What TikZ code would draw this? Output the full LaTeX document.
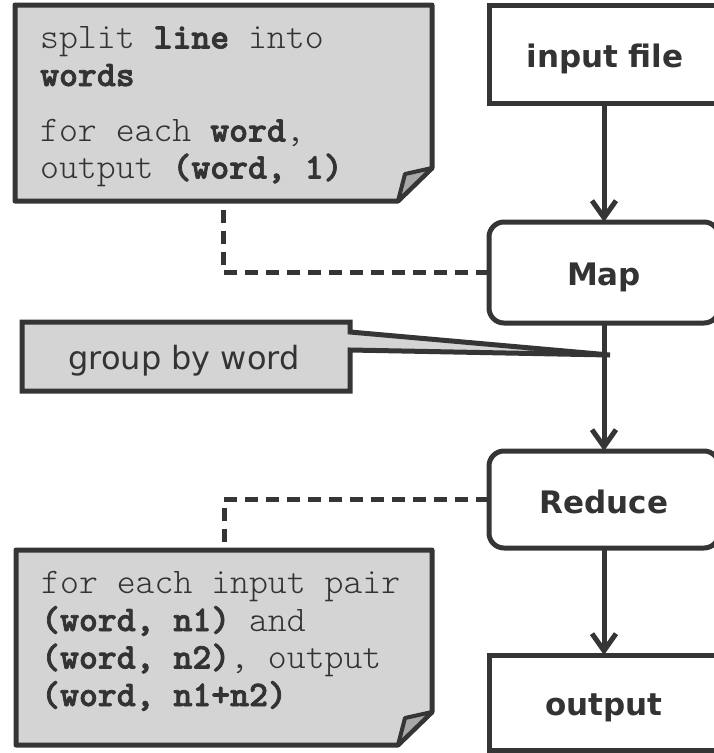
\documentclass[tikz,border=0pt]{standalone}
\usepackage{fontspec}
\setmainfont{DejaVu Sans}
\newfontfamily\codefont{lmmonolt10-regular.otf}[BoldFont=lmmonolt10-bold.otf, BoldFeatures={FakeBold=2}]
\usetikzlibrary{arrows.meta,calc}

\definecolor{ink}{HTML}{353535}
\definecolor{txt}{HTML}{333333}
\definecolor{notefill}{HTML}{D4D4D4}
\definecolor{foldfill}{HTML}{A8A8A8}

\tikzset{
  box/.style={draw=ink, line width=5pt, fill=white, minimum width=230pt,
    inner sep=0pt, outer sep=0pt},
  roundbox/.style={box, rounded corners=15pt},
  boxlabel/.style={anchor=base, font=\fontsize{31}{31}\selectfont\bfseries, text=txt, inner sep=0pt},
  flow/.style={draw=ink, line width=5pt, -{Straight Barb[length=17pt,width=24pt,line width=5pt]}},
  link/.style={draw=ink, line width=5pt, dash pattern=on 13pt off 8pt},
  notearea/.style={inner sep=0pt, outer sep=0pt},
  noteline/.style={draw=ink, fill=notefill, line width=5pt, line join=round},
  foldline/.style={draw=ink, fill=foldfill, line width=4pt, line join=round},
  code/.style={anchor=base west, font=\codefont\fontsize{36}{36}\selectfont, text=txt, inner sep=0pt},
}

\begin{document}
\begin{tikzpicture}[x=1pt, y=-1pt]
\useasboundingbox (0,0) rectangle (714,753);

% main flow boxes
\node[box, minimum height=98pt] (input) at (604,54) {};
\node[roundbox, minimum height=101pt] (map) at (604,272.5) {};
\node[roundbox, minimum height=97pt] (reduce) at (604,499.5) {};
\node[box, minimum height=95pt] (output) at (604,702.5) {};

\node[boxlabel] (inputlbl) at (605,67) {input file};
\node[boxlabel] (maplbl) at (604,285) {Map};
\node[boxlabel] (reducelbl) at (604,513) {Reduce};
\node[boxlabel] (outputlbl) at (604,715) {output};

% arrows between stages
\draw[flow] (input.south) -- (map.north);
\draw[flow] (map.south) -- (reduce.north);
\draw[flow] (reduce.south) -- (output.north);

% note areas
\node[notearea, minimum width=417pt, minimum height=196pt] (mapnote) at (223.5,103) {};
\node[notearea, minimum width=416pt, minimum height=195pt] (rednote) at (224,647.5) {};

% dashed links from the stages to their notes
\draw[link] (map.west) -| (mapnote.south);
\draw[link] (reduce.west) -| (rednote.north);

% note with folded corner: Map
\draw[noteline] (mapnote.north west) -- (mapnote.north east)
  -- ($(mapnote.south east)+(0,-33)$) -- ($(mapnote.south east)+(-34,0)$)
  -- (mapnote.south west) -- cycle;
\draw[foldline] ($(mapnote.south east)+(0,-33)$) -- ($(mapnote.south east)+(-27,-27)$)
  -- ($(mapnote.south east)+(-34,0)$) -- cycle;

% note with folded corner: Reduce
\draw[noteline] (rednote.north west) -- (rednote.north east)
  -- ($(rednote.south east)+(0,-33)$) -- ($(rednote.south east)+(-34,0)$)
  -- (rednote.south west) -- cycle;
\draw[foldline] ($(rednote.south east)+(0,-33)$) -- ($(rednote.south east)+(-27,-27)$)
  -- ($(rednote.south east)+(-34,0)$) -- cycle;

% note text
\node[code] (m1) at (40,48.5) {split \textbf{line} into};
\node[code] (m2) at (40,86) {\textbf{words}};
\node[code] (m3) at (40,141.5) {for each \textbf{word},};
\node[code] (m4) at (40,178.5) {output \textbf{(word, 1)}};

\node[code] (r1) at (41,593) {for each input pair};
\node[code] (r2) at (41,631) {\textbf{(word, n1)} and};
\node[code] (r3) at (41,668.5) {\textbf{(word, n2)}, output};
\node[code] (r4) at (41,706) {\textbf{(word, n1+n2)}};

% callout for the grouping step
\node[inner sep=0pt, outer sep=0pt, minimum width=328pt, minimum height=69pt] (group) at (186,356.5) {};
\coordinate (grouptip) at (610,355);
\draw[noteline, line join=miter] (group.north west) -- (group.north east)
  -- ($(group.north east)+(0,10)$) -- (grouptip)
  -- ($(group.north east)+(0,28)$) -- (group.south east)
  -- (group.south west) -- cycle;
\node[anchor=base, font=\fontsize{32}{32}\selectfont, text=txt, inner sep=0pt] (grouplbl) at (184,369) {group by word};
\end{tikzpicture}
\end{document}
